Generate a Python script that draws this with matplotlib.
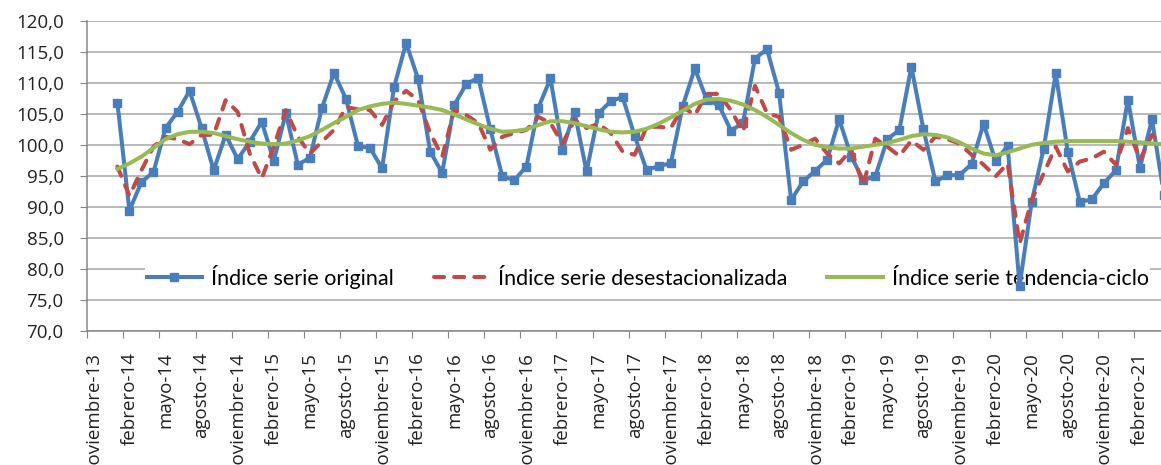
import matplotlib.pyplot as plt
import numpy as np

# Monthly index values, first value is enero-14 (category 2 on the axis, which starts at noviembre-13)
FIRST_IDX = 2

original = [106.8, 89.4, 94.0, 95.6, 102.7, 105.3, 108.7, 102.7, 95.9, 101.6,
            97.7, 100.5, 103.7, 97.4, 105.1, 96.8, 97.9, 105.9, 111.6, 107.4,
            99.8, 99.5, 96.2, 109.3, 116.4, 110.6, 98.9, 95.5, 106.4, 109.8,
            110.8, 102.5, 94.9, 94.3, 96.5, 106.0, 110.7, 99.2, 105.3, 95.7,
            105.1, 107.0, 107.7, 101.4, 95.9, 96.6, 97.0, 106.3, 112.3, 107.2,
            106.4, 102.3, 103.5, 113.9, 115.4, 108.4, 91.1, 94.1, 95.8, 97.6,
            104.1, 98.1, 94.3, 94.9, 100.9, 102.4, 112.6, 102.5, 94.1, 95.1,
            95.1, 96.9, 103.4, 97.4, 99.8, 77.3, 90.8, 99.4, 111.5, 98.9,
            90.8, 91.2, 93.8, 95.9, 107.3, 96.3, 104.1, 91.9]

desest = [96.5, 91.8, 95.9, 99.7, 101.3, 100.9, 100.1, 101.6, 101.6, 107.2,
          105.3, 98.6, 94.6, 99.7, 105.6, 101.3, 98.6, 100.5, 102.4, 106.1,
          105.7, 105.6, 103.2, 107.0, 108.7, 107.2, 101.9, 98.1, 105.6, 104.8,
          103.5, 99.2, 101.3, 101.9, 102.4, 104.5, 103.5, 100.2, 104.0, 102.7,
          103.4, 101.9, 98.9, 98.4, 102.9, 102.9, 102.7, 106.1, 104.8, 108.2,
          108.2, 105.6, 102.1, 109.5, 105.1, 104.5, 99.2, 100.0, 101.0, 98.6,
          97.0, 99.2, 93.5, 101.0, 99.7, 98.2, 100.7, 99.2, 101.3, 100.9,
          100.2, 98.4, 96.8, 94.9, 97.0, 84.1, 91.1, 95.4, 99.7, 95.7,
          97.3, 97.8, 98.9, 96.8, 102.7, 97.6, 101.6, 99.7]

tendencia = [96.1, 97.0, 98.1, 99.5, 100.9, 101.7, 102.1, 102.1, 101.9, 101.4,
             100.9, 100.5, 100.2, 100.1, 100.2, 100.7, 101.4, 102.4, 103.5, 104.5,
             105.6, 106.2, 106.6, 106.8, 106.6, 106.3, 106.0, 105.6, 104.9, 104.1,
             103.3, 102.6, 102.1, 102.2, 102.5, 103.2, 103.8, 103.8, 103.5, 103.0,
             102.5, 102.1, 102.0, 102.1, 102.6, 103.4, 104.4, 105.5, 106.6, 107.3,
             107.4, 107.1, 106.5, 105.6, 104.5, 103.2, 101.9, 100.8, 100.0, 99.6,
             99.4, 99.4, 99.7, 100.0, 100.3, 100.8, 101.4, 101.7, 101.6, 101.2,
             100.4, 99.4, 98.6, 98.3, 98.8, 99.4, 100.0, 100.3, 100.5, 100.6,
             100.6, 100.6, 100.6, 100.6, 100.5, 100.4, 100.2, 100.1]

tick_labels = ['noviembre-13', 'febrero-14', 'mayo-14', 'agosto-14',
               'noviembre-14', 'febrero-15', 'mayo-15', 'agosto-15',
               'noviembre-15', 'febrero-16', 'mayo-16', 'agosto-16',
               'noviembre-16', 'febrero-17', 'mayo-17', 'agosto-17',
               'noviembre-17', 'febrero-18', 'mayo-18', 'agosto-18',
               'noviembre-18', 'febrero-19', 'mayo-19', 'agosto-19',
               'noviembre-19', 'febrero-20', 'mayo-20', 'agosto-20',
               'noviembre-20', 'febrero-21']

series_names = ['Índice serie original', 'Índice serie desestacionalizada',
                'Índice serie tendencia-ciclo']

TICK_FONT = ['Open Sans', 'DejaVu Sans']
LEG_FONT = ['Lato', 'DejaVu Sans']
AXIS_COLOR = '#868686'
GRID_COLOR = '#A6A6A6'

x = np.arange(FIRST_IDX, FIRST_IDX + len(original))

fig = plt.figure(figsize=(11.61, 4.65), dpi=100)
ax = fig.add_axes([0.0752, 0.2882, 0.9248, 0.6673])

ax.plot(x, original, color='#4A7EBB', lw=2.9, marker='s', ms=6,
        zorder=3, label=series_names[0])
ax.plot(x, desest, color='#BE4B48', lw=2.9, ls=(0, (2.5, 2.5)),
        dash_capstyle='round', zorder=4, label=series_names[1])
ax.plot(x, tendencia, color='#98B954', lw=2.9, zorder=5, label=series_names[2])

# y axis
yt = np.arange(70, 121, 5)
ax.set_ylim(70, 120)
ax.set_yticks(yt)
ax.set_yticklabels([f'{v:.1f}'.replace('.', ',') for v in yt],
                   fontsize=13.5, family=TICK_FONT, color='#222222')
ax.yaxis.grid(True, color=GRID_COLOR, lw=1.1)
ax.set_axisbelow(True)
ax.tick_params(axis='y', length=5, color=AXIS_COLOR, pad=12)

# x axis: ticks between groups of 3 months, labels on category centers
ax.set_xlim(-0.5, 88.75)
ax.set_xticks(np.arange(-0.5, 88.75, 3))
ax.set_xticklabels([])
ax.set_xticks(np.arange(0, 3 * len(tick_labels), 3), minor=True)
ax.set_xticklabels(tick_labels, minor=True, rotation=90, fontsize=13.5,
                   family=TICK_FONT, color='#222222')
ax.tick_params(axis='x', which='major', length=5, color=AXIS_COLOR)
ax.tick_params(axis='x', which='minor', length=0, pad=15)

for side in ['top', 'right']:
    ax.spines[side].set_visible(False)
for side in ['left', 'bottom']:
    ax.spines[side].set_color(AXIS_COLOR)
    ax.spines[side].set_linewidth(1.1)

leg = ax.legend(loc='center', bbox_to_anchor=(0.522, 0.174), ncol=3,
                prop={'family': LEG_FONT, 'size': 15.5}, handlelength=2.6,
                handletextpad=0.4, columnspacing=1.85, borderpad=0.05,
                fancybox=False, framealpha=1)
leg.get_frame().set_edgecolor('none')
leg.get_frame().set_facecolor('white')
leg.set_zorder(2.5)

fig.savefig('out.png', dpi=100)
